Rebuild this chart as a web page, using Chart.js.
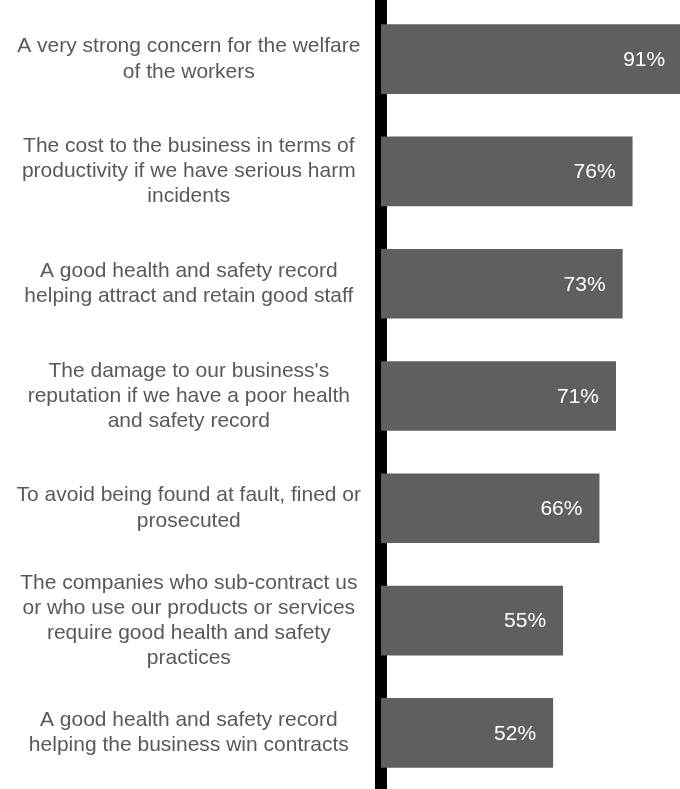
<!DOCTYPE html>
<html>
<head>
<meta charset="utf-8">
<script src="https://cdn.jsdelivr.net/npm/chart.js@4/dist/chart.umd.min.js"></script>
<style>
  html, body { margin: 0; padding: 0; background: #ffffff; overflow: hidden; }
  #wrap { width: 712px; height: 789px; }
</style>
</head>
<body>
<div id="wrap"><canvas id="chart" width="712" height="789"></canvas></div>
<script>
// Reasons for managing health and safety (share of businesses, %)
const categories = [
  ["A very strong concern for the welfare", "of the workers"],
  ["The cost to the business in terms of", "productivity if we have serious harm", "incidents"],
  ["A good health and safety record", "helping attract and retain good staff"],
  ["The damage to our business's", "reputation if we have a poor health", "and safety record"],
  ["To avoid being found at fault, fined or", "prosecuted"],
  ["The companies who sub-contract us", "or who use our products or services", "require good health and safety", "practices"],
  ["A good health and safety record", "helping the business win contracts"]
];
const values = [91, 76, 73, 71, 66, 55, 52];

const FONT = "'Liberation Sans', Arial, sans-serif";

// Percentage labels drawn inside the end of each bar
const valueLabels = {
  id: 'valueLabels',
  afterDatasetsDraw(chart) {
    const ctx = chart.ctx;
    const meta = chart.getDatasetMeta(0);
    ctx.save();
    ctx.font = '21px ' + FONT;
    ctx.fillStyle = '#ffffff';
    ctx.textAlign = 'right';
    ctx.textBaseline = 'middle';
    meta.data.forEach((bar, i) => {
      ctx.fillText(values[i] + '%', bar.x - 17, bar.y + 1);
    });
    ctx.restore();
  }
};

new Chart(document.getElementById('chart'), {
  type: 'bar',
  data: {
    labels: categories,
    datasets: [{
      data: values,
      backgroundColor: '#5f5f5f',
      borderWidth: 0,
      barPercentage: 0.62,
      categoryPercentage: 1
    }]
  },
  options: {
    indexAxis: 'y',
    responsive: false,
    animation: false,
    devicePixelRatio: 1,
    layout: { padding: { top: 3, right: 0, bottom: 0, left: 0 } },
    plugins: {
      legend: { display: false },
      tooltip: { enabled: false }
    },
    scales: {
      x: {
        display: false,
        min: 0,
        max: 100
      },
      y: {
        z: 1,
        afterFit(scale) {
          scale.width = 381;
          // let the category bands use the full height of the canvas
          scale.paddingTop = 0;
          scale.paddingBottom = 0;
        },
        grid: { display: false, drawTicks: false },
        border: { display: true, color: '#000000', width: 12 },
        ticks: {
          crossAlign: 'center',
          padding: 20,
          color: '#595959',
          font: { family: FONT, size: 21 }
        }
      }
    }
  },
  plugins: [valueLabels]
});
</script>
</body>
</html>
